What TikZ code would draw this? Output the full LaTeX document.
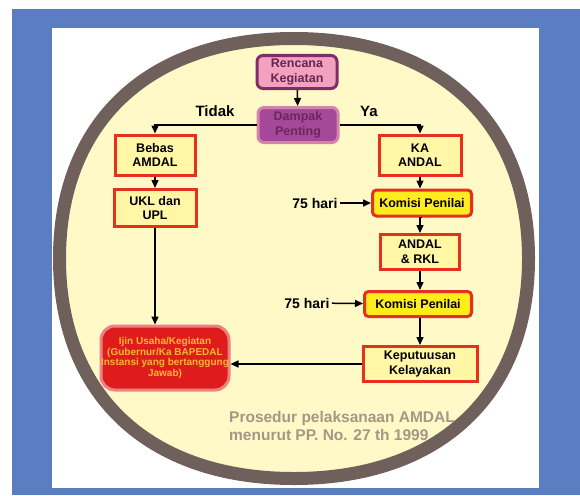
\documentclass[tikz,border=0pt]{standalone}
\usepackage{fontspec}
\setmainfont{Liberation Sans}[BoldFont={Liberation Sans Bold}]
\usetikzlibrary{arrows.meta}
\definecolor{framec}{HTML}{5B7EC2}
\definecolor{ringc}{HTML}{6F605B}
\definecolor{creamc}{HTML}{FFF9C8}
\definecolor{redc}{HTML}{E5301E}
\definecolor{palec}{HTML}{FFF6A6}
\definecolor{brightc}{HTML}{FFEC1E}
\definecolor{pinkc}{HTML}{F2A2BE}
\definecolor{plumc}{HTML}{7E2E68}
\definecolor{mauvec}{HTML}{A6489A}
\definecolor{ijinc}{HTML}{DE1C1C}
\definecolor{goldc}{HTML}{FFB832}
\definecolor{notec}{HTML}{A69684}
\tikzstyle{flow} = [
  draw=redc,
  line width=3pt,
  fill=palec,
  align=center,
  inner sep=2pt,
  font=\bfseries\fontsize{12.5}{14.5}\selectfont,
]
\tikzstyle{komisi} = [
  flow,
  fill=brightc,
  rounded corners=4pt,
]
\tikzstyle{arr} = [
  line width=1.5pt,
  -{Triangle[length=8pt,width=7pt]},
]

\begin{document}
\begin{tikzpicture}[x=1pt, y=-1pt]
    \useasboundingbox (0,0) rectangle (580,495);
    \def\cx{294}
    \def\cy{258.5}
    \def\rx{234.5}
    \def\ry{220}
    \def\k{0.62}

    % Frame
    \fill[framec] (12,9) rectangle (580,495);
    \fill[white] (52,28) rectangle (539,488);

    % Round plate
    \draw[line width=13pt, draw=ringc, fill=creamc]
      (\cx+\rx,\cy) .. controls (\cx+\rx,\cy+\k*\ry) and (\cx+\k*\rx,\cy+\ry) .. (\cx,\cy+\ry)
      .. controls (\cx-\k*\rx,\cy+\ry) and (\cx-\rx,\cy+\k*\ry) .. (\cx-\rx,\cy)
      .. controls (\cx-\rx,\cy-\k*\ry) and (\cx-\k*\rx,\cy-\ry) .. (\cx,\cy-\ry)
      .. controls (\cx+\k*\rx,\cy-\ry) and (\cx+\rx,\cy-\k*\ry) .. (\cx+\rx,\cy) -- cycle;

    % Boxes
    \node[flow, draw=plumc, fill=pinkc, text=plumc!80!black, rounded corners=6pt,
      minimum width=80pt, minimum height=33pt] (rencana) at (297,72) {Rencana\\Kegiatan};
    \node[flow, draw=mauvec!50!pink, fill=mauvec, text=plumc!85!black, rounded corners=6pt,
      minimum width=80pt, minimum height=35pt] (dampak) at (298,125) {Dampak\\Penting};
    \node[flow, minimum width=80pt, minimum height=40pt] (bebas) at (155,155) {Bebas\\AMDAL};
    \node[flow, minimum width=82pt, minimum height=40pt] (ka) at (420,155) {KA\\ANDAL};
    \node[flow, minimum width=82pt, minimum height=37pt] (ukl) at (155,208) {UKL dan\\UPL};
    \node[komisi, minimum width=99pt, minimum height=26pt] (komisiA) at (422,203) {Komisi Penilai};
    \node[flow, minimum width=79pt, minimum height=35pt] (andal) at (420,252) {ANDAL\\\& RKL};
    \node[komisi, minimum width=107pt, minimum height=25pt] (komisiB) at (418,304) {Komisi Penilai};
    \node[flow, minimum width=114pt, minimum height=35pt] (keputusan) at (420,364) {Keputuusan\\Kelayakan};
    \node[flow, draw=ijinc!55!white, fill=ijinc, text=goldc, rounded corners=14pt,
      minimum width=128pt, minimum height=64pt, inner sep=0pt,
      font=\bfseries\fontsize{10}{10.5}\selectfont] (ijin) at (165,358)
      {Ijin Usaha/Kegiatan\\(Gubernur/Ka BAPEDAL\\Instansi yang bertanggung\\Jawab)};

    % Labels
    \node[font=\bfseries\fontsize{15}{17}\selectfont] (tidak) at (215,111) {Tidak};
    \node[font=\bfseries\fontsize{15}{17}\selectfont] (ya) at (369,111) {Ya};
    \node[font=\bfseries\fontsize{14}{16}\selectfont, inner sep=2pt] (hariA) at (315,203) {75 hari};
    \node[font=\bfseries\fontsize{14}{16}\selectfont, inner sep=2pt] (hariB) at (307,303) {75 hari};
    \node[text=notec, align=left, font=\bfseries\fontsize{15.5}{17.5}\selectfont] (judul) at (342,426)
      {Prosedur pelaksanaan AMDAL\\menurut PP. No. 27 th 1999};

    % Arrows
    \draw[arr] (rencana) -- (dampak);
    \draw[arr] (dampak.west) -| (bebas.north);
    \draw[arr] (dampak.east) -| (ka.north);
    \draw[arr] (bebas) -- (ukl);
    \draw[arr] (ukl.south) -- (ukl.south |- ijin.north);
    \draw[arr] (ka.south) -- (ka.south |- komisiA.north);
    \draw[arr] (komisiA.south) -- (komisiA.south -| andal.north) -- (andal.north);
    \draw[arr] (andal.south) -- (andal.south |- komisiB.north);
    \draw[arr] (keputusan.north |- komisiB.south) -- (keputusan.north);
    \draw[arr] (keputusan.west) -- (keputusan.west -| ijin.east);
    \draw[arr] (hariA) -- (komisiA);
    \draw[arr] (hariB) -- (komisiB);
\end{tikzpicture}
\end{document}
